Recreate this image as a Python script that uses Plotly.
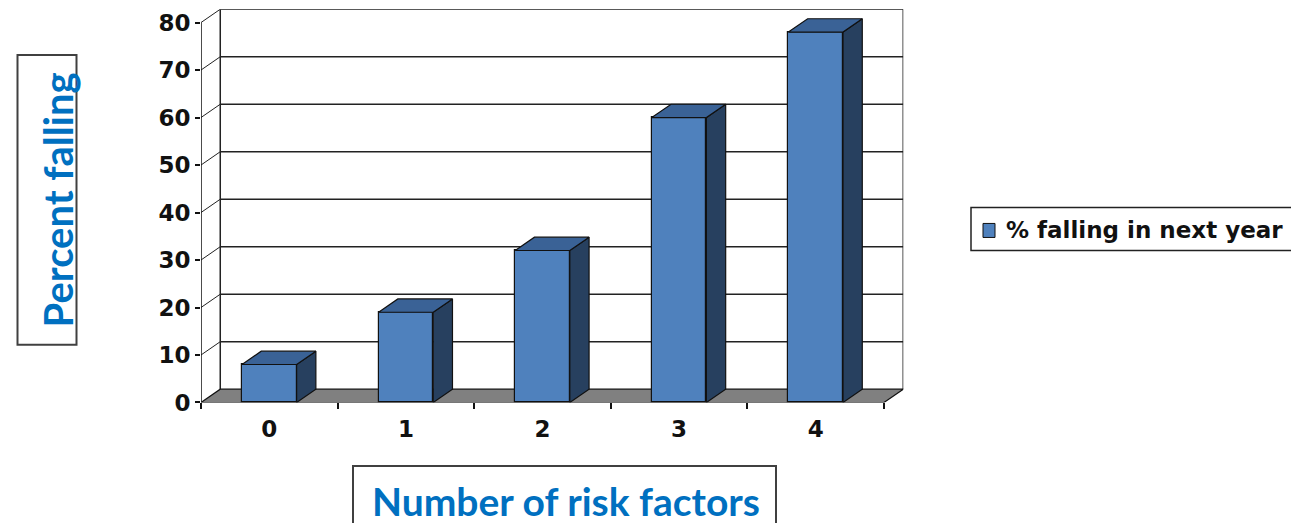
import plotly.graph_objects as go

# Data
categories = [0, 1, 2, 3, 4]
tick_labels = ["0", "1", "2", "3", "4"]
pct_falling = [8, 19, 32, 60, 78]
y_ticks = [0, 10, 20, 30, 40, 50, 60, 70, 80]
series_name = "% falling in next year"

W = 1291          # page width in px
H = 509           # drawable paper height in px
FRONT = "#4F81BD"
SIDE = "#27405F"
TOP = "#3A6296"
FLOOR = "#808080"
EDGE = "#111111"
BLUE_TXT = "#0070C0"

# pseudo-3D depth offsets (data units)
DX = 0.141
DY = 2.8
BW = 0.4
X0, X1 = -0.5, 4.5
YMAX = 80

def px_x(p):
    return p / W

def px_y(p):
    return 1 - p / H

fig = go.Figure()

# front faces of the columns
fig.add_trace(go.Bar(
    x=categories, y=pct_falling, width=BW, name=series_name,
    marker=dict(color=FRONT, line=dict(color=EDGE, width=1.2)),
    showlegend=False, hoverinfo="skip"))

# side and top faces
sx, sy, tx, ty = [], [], [], []
for c, v in zip(categories, pct_falling):
    r = c + BW / 2
    l = c - BW / 2
    sx += [r, r + DX, r + DX, r, r, None]
    sy += [0, DY, v + DY, v, 0, None]
    tx += [l, r, r + DX, l + DX, l, None]
    ty += [v, v, v + DY, v + DY, v, None]
fig.add_trace(go.Scatter(x=sx, y=sy, mode="lines", fill="toself", fillcolor=SIDE,
                         line=dict(color=EDGE, width=1.2), showlegend=False, hoverinfo="skip"))
fig.add_trace(go.Scatter(x=tx, y=ty, mode="lines", fill="toself", fillcolor=TOP,
                         line=dict(color=EDGE, width=1.2), showlegend=False, hoverinfo="skip"))

shapes = []
# back wall gridlines and border
for k in y_ticks[1:]:
    shapes.append(dict(type="line", xref="x", yref="y", x0=X0 + DX, x1=X1 + DX,
                       y0=k + DY, y1=k + DY, line=dict(color="#222", width=1.5), layer="below"))
for xv in (X0 + DX, X1 + DX):
    shapes.append(dict(type="line", xref="x", yref="y", x0=xv, x1=xv, y0=DY, y1=YMAX + DY,
                       line=dict(color="#222", width=1.5), layer="below"))
# side wall connectors
for k in y_ticks[1:]:
    shapes.append(dict(type="line", xref="x", yref="y", x0=X0, x1=X0 + DX, y0=k, y1=k + DY,
                       line=dict(color="#222", width=1), layer="below"))
# floor
shapes.append(dict(type="path", xref="x", yref="y",
                   path=f"M {X0},0 L {X1},0 L {X1 + DX},{DY} L {X0 + DX},{DY} Z",
                   fillcolor=FLOOR, line=dict(color=EDGE, width=1.2), layer="below"))
# front value axis line
shapes.append(dict(type="line", xref="x", yref="y", x0=X0, x1=X0, y0=0, y1=YMAX,
                   line=dict(color=EDGE, width=1.5), layer="above"))

# axis title boxes
shapes.append(dict(type="rect", xref="paper", yref="paper",
                   x0=px_x(17.5), x1=px_x(76.5), y0=px_y(344), y1=px_y(55),
                   line=dict(color="#404040", width=2), layer="below"))
shapes.append(dict(type="rect", xref="paper", yref="paper",
                   x0=px_x(353), x1=px_x(776), y0=px_y(540), y1=px_y(465),
                   line=dict(color="#404040", width=2), layer="below"))
# legend box and key
shapes.append(dict(type="rect", xref="paper", yref="paper",
                   x0=px_x(971), x1=px_x(1300), y0=px_y(250), y1=px_y(207),
                   line=dict(color="#222", width=1.5), layer="below"))
shapes.append(dict(type="rect", xref="paper", yref="paper",
                   x0=px_x(983), x1=px_x(995), y0=px_y(237), y1=px_y(223),
                   fillcolor=FRONT, line=dict(color=EDGE, width=1), layer="above"))

annotations = [
    dict(text="Percent falling", xref="paper", yref="paper", x=px_x(58), y=px_y(200),
         textangle=-90, showarrow=False, xanchor="center", yanchor="middle",
         font=dict(family="Lato", size=40, color=BLUE_TXT, weight="bold")),
    dict(text="Number of risk factors", xref="paper", yref="paper", x=px_x(566), y=px_y(500),
         showarrow=False, xanchor="center", yanchor="middle",
         font=dict(family="Lato", size=39, color=BLUE_TXT, weight="bold")),
    dict(text=series_name, xref="paper", yref="paper", x=px_x(1004), y=px_y(230),
         showarrow=False, xanchor="left", yanchor="middle",
         font=dict(family="DejaVu Sans", size=23, color="#111", weight="bold")),
]

fig.update_layout(
    autosize=True,
    margin=dict(l=0, r=0, t=0, b=0),
    paper_bgcolor="white", plot_bgcolor="rgba(0,0,0,0)",
    shapes=shapes, annotations=annotations,
    showlegend=False,
    bargap=0,
    xaxis=dict(
        domain=[px_x(201), px_x(201 + (X1 + DX - X0) * 136.6)],
        range=[X0, X1 + DX], showgrid=False, zeroline=False, showline=False,
        tickmode="array", tickvals=categories, ticktext=tick_labels,
        ticks="", ticklabelstandoff=11,
        tickfont=dict(family="DejaVu Sans", size=23, color="#111", weight="bold"),
        minor=dict(tickmode="array", tickvals=[X0, 0.5, 1.5, 2.5, 3.5, X1],
                   ticks="outside", ticklen=6, tickcolor=EDGE, tickwidth=1.5, showgrid=False),
        fixedrange=True,
    ),
    yaxis=dict(
        domain=[px_y(401.7), px_y(401.7 - (YMAX + DY) * 4.74)],
        range=[0, YMAX + DY], showgrid=False, zeroline=False, showline=False,
        tickmode="array", tickvals=y_ticks, ticktext=[str(t) for t in y_ticks],
        ticks="outside", ticklen=5, tickcolor=EDGE, tickwidth=1.5,
        tickfont=dict(family="DejaVu Sans", size=23, color="#111", weight="bold"),
        fixedrange=True,
    ),
)

fig.write_html("out.html", default_width="100vw", default_height="100vh")
